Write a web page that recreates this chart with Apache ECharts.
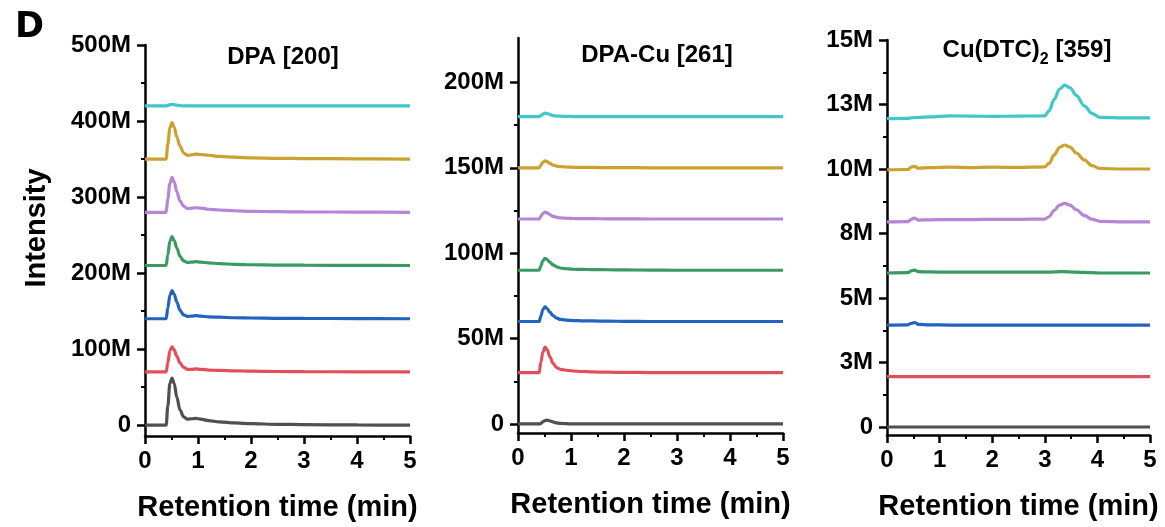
<!DOCTYPE html>
<html>
<head>
<meta charset="utf-8">
<script src="https://cdn.jsdelivr.net/npm/echarts@6/dist/echarts.min.js"></script>
<style>
  html, body { margin: 0; padding: 0; background: #fff; }
  #chart { width: 1165px; height: 527px; }
</style>
</head>
<body>
<div id="chart"></div>
<script>
// retention time (min) and intensity values (millions)
const time1 = [0, 0.40, 0.43, 0.47, 0.51, 0.55, 0.60, 0.66, 0.73, 0.80, 0.88, 0.96, 1.05, 1.2, 1.4, 1.7, 2.0, 2.5, 3.0, 4.0, 5.0]
const dpaBlack = [0, 0, 25, 55, 62, 55, 37, 20, 11, 8, 8.5, 9, 8, 6, 4.5, 3, 2, 1.2, 0.8, 0.3, 0]
const dpaRed = [70, 70, 82, 98, 103, 99, 91, 82, 76, 73.5, 73.5, 74, 73.5, 72.5, 72, 71.5, 71, 70.6, 70.4, 70.2, 70]
const dpaBlue = [140, 140, 154, 171, 177, 172, 162, 151, 145, 143, 143.5, 144, 143.5, 142.5, 142, 141.3, 141, 140.6, 140.4, 140.2, 140]
const dpaGreen = [210, 210, 224, 242, 248, 243, 233, 222, 216, 214, 214.5, 215, 214.5, 213.5, 212.5, 211.5, 211, 210.6, 210.4, 210.2, 210]
const dpaPurple = [280, 280, 298, 318, 326, 320, 307, 295, 288, 285, 285.5, 286, 285.5, 284, 283, 282, 281.3, 280.8, 280.5, 280.2, 280]
const dpaYellow = [350, 350, 370, 391, 398, 392, 379, 367, 358, 355, 355.5, 356.5, 356, 355, 353.5, 352.5, 351.5, 351, 350.6, 350.3, 350]
const dpaCyan = [420, 420, 420.5, 421.5, 422, 421.5, 420.8, 420.3, 420, 420, 420, 420, 420, 420, 420, 420, 420, 420, 420, 420, 420]

const time2 = time1
const cuBlack = [0, 0, 0.3, 1.2, 2, 2.2, 1.8, 1.2, 0.6, 0.3, 0.2, 0.1, 0.1, 0, 0, 0, 0, 0, 0, 0, 0]
const cuRed = [30, 30, 36, 42, 45, 43.5, 39.5, 35.5, 33, 32, 31.6, 31.3, 31, 30.7, 30.5, 30.3, 30.2, 30.1, 30, 30, 30]
const cuBlue = [60, 60, 63, 67, 68.5, 67.5, 65.5, 63.5, 62, 61.2, 60.9, 60.7, 60.5, 60.4, 60.3, 60.2, 60.1, 60, 60, 60, 60]
const cuGreen = [90, 90, 92.5, 95.5, 97, 96.3, 94.8, 93.2, 92, 91.3, 91, 90.8, 90.6, 90.5, 90.4, 90.3, 90.2, 90.1, 90, 90, 90]
const cuPurple = [120, 120, 121.5, 123.2, 124, 123.6, 122.6, 121.6, 121, 120.7, 120.5, 120.4, 120.3, 120.2, 120.2, 120.1, 120.1, 120, 120, 120, 120]
const cuYellow = [150, 150, 151.5, 153.2, 154, 153.6, 152.6, 151.6, 151, 150.7, 150.5, 150.4, 150.3, 150.2, 150.2, 150.1, 150.1, 150, 150, 150, 150]
const cuCyan = [180, 180, 180.5, 181.4, 182, 181.8, 181.2, 180.6, 180.3, 180.2, 180.1, 180.1, 180, 180, 180, 180, 180, 180, 180, 180, 180]

const time3 = [0, 0.40, 0.46, 0.52, 0.60, 0.80, 1.2, 1.6, 2.0, 2.5, 3.0, 3.08, 3.18, 3.28, 3.38, 3.48, 3.6, 3.75, 3.9, 4.05, 4.5, 5.0]
const dtcBlack = [0, 0, 0, 0, 0, 0, 0, 0, 0, 0, 0, 0, 0, 0, 0, 0, 0, 0, 0, 0, 0, 0]
const dtcRed = [1.95, 1.95, 1.95, 1.95, 1.95, 1.95, 1.95, 1.95, 1.95, 1.95, 1.95, 1.95, 1.95, 1.95, 1.95, 1.95, 1.95, 1.95, 1.95, 1.95, 1.95, 1.95]
const dtcBlue = [3.95, 3.96, 4.02, 4.05, 3.98, 3.96, 3.95, 3.95, 3.95, 3.95, 3.95, 3.95, 3.95, 3.95, 3.95, 3.95, 3.95, 3.95, 3.95, 3.95, 3.95, 3.95]
const dtcGreen = [5.97, 5.98, 6.05, 6.08, 6.02, 6.01, 6.0, 6.0, 6.0, 6.0, 6.0, 6.0, 6.01, 6.02, 6.02, 6.01, 6.0, 5.99, 5.98, 5.97, 5.97, 5.97]
const dtcPurple = [7.95, 7.96, 8.05, 8.1, 8.02, 8.03, 8.04, 8.04, 8.05, 8.05, 8.06, 8.15, 8.4, 8.6, 8.67, 8.6, 8.42, 8.2, 8.05, 7.97, 7.95, 7.95]
const dtcYellow = [9.97, 9.98, 10.07, 10.1, 10.03, 10.05, 10.07, 10.05, 10.07, 10.06, 10.08, 10.22, 10.55, 10.84, 10.93, 10.85, 10.62, 10.35, 10.13, 10.02, 10.0, 10.0]
const dtcCyan = [11.95, 11.96, 11.98, 11.99, 12.0, 12.02, 12.06, 12.05, 12.04, 12.05, 12.06, 12.25, 12.7, 13.1, 13.25, 13.15, 12.85, 12.45, 12.15, 12.0, 11.98, 11.98]

// y tick values (millions)
const ticks1 = [0, 100, 200, 300, 400, 500]
const minor1 = [50, 150, 250, 350, 450]
const ticks2 = [0, 50, 100, 150, 200]
const minor2 = [25, 75, 125, 175]
const ticks3 = [0, 2.5, 5, 7.5, 10, 12.5, 15]
const minor3 = [1.25, 3.75, 6.25, 8.75, 11.25, 13.75]

const colors = ['#505050', '#e0505a', '#2462c0', '#3b9a62', '#b586d6', '#c9a22f', '#41c6c9']

const panels = [
  { time: time1, min: -14.2, max: 500, ticks: ticks1, minor: minor1,
    series: [dpaBlack, dpaRed, dpaBlue, dpaGreen, dpaPurple, dpaYellow, dpaCyan],
    grid: { left: 145, top: 45, width: 265, height: 398 } },
  { time: time2, min: -5.3, max: 226, ticks: ticks2, minor: minor2,
    series: [cuBlack, cuRed, cuBlue, cuGreen, cuPurple, cuYellow, cuCyan],
    grid: { left: 518, top: 38, width: 265, height: 395 } },
  { time: time3, min: -0.31, max: 15, ticks: ticks3, minor: minor3,
    series: [dtcBlack, dtcRed, dtcBlue, dtcGreen, dtcPurple, dtcYellow, dtcCyan],
    grid: { left: 887, top: 40, width: 263, height: 395 } }
]

const black = '#000'
const tickFont = { fontFamily: 'Liberation Sans', fontWeight: 'bold', fontSize: 24, color: black }
const nameFont = { fontFamily: 'Liberation Sans', fontWeight: 'bold', fontSize: 29, color: black }

const fmtM = v => (v === 0 ? '0' : Math.round(v) + 'M')

const grid = []
const xAxis = []
const yAxis = []
const series = []

panels.forEach((p, i) => {
  grid.push(p.grid)
  xAxis.push({
    gridIndex: i,
    type: 'value',
    min: 0,
    max: 5,
    interval: 1,
    axisLine: { onZero: false, lineStyle: { color: black, width: 2.5 } },
    axisTick: { length: 8, lineStyle: { color: black, width: 2.5 } },
    minorTick: { show: true, splitNumber: 2, length: 4, lineStyle: { color: black, width: 2 } },
    axisLabel: Object.assign({ margin: 13 }, tickFont),
    splitLine: { show: false },
    name: 'Retention time (min)',
    nameLocation: 'middle',
    nameGap: 57,
    nameTextStyle: nameFont
  })
  // main y axis with labelled ticks
  yAxis.push({
    gridIndex: i,
    type: 'value',
    position: 'left',
    min: p.min,
    max: p.max,
    axisLine: { show: true, onZero: false, lineStyle: { color: black, width: 2.5 } },
    axisTick: { customValues: p.ticks, length: 8, lineStyle: { color: black, width: 2.5 } },
    axisLabel: Object.assign({ customValues: p.ticks, margin: 14, formatter: fmtM }, tickFont),
    splitLine: { show: false }
  })
  // second y axis only for the short minor ticks
  yAxis.push({
    gridIndex: i,
    type: 'value',
    position: 'left',
    min: p.min,
    max: p.max,
    axisLine: { show: false, onZero: false },
    axisTick: { customValues: p.minor, length: 4, lineStyle: { color: black, width: 2 } },
    axisLabel: { show: false },
    splitLine: { show: false }
  })
  p.series.forEach((vals, k) => {
    series.push({
      type: 'line',
      xAxisIndex: i,
      yAxisIndex: i * 2,
      data: p.time.map((t, j) => [t, vals[j]]),
      showSymbol: false,
      smooth: 0.35,
      smoothMonotone: 'x',
      lineStyle: { color: colors[k], width: 3.2 },
      itemStyle: { color: colors[k] },
      silent: true
    })
  })
})

const titleStyle = { fill: black, fontFamily: 'Liberation Sans', fontWeight: 'bold', fontSize: 24, align: 'center', verticalAlign: 'middle' }

const graphic = [
  { type: 'text', x: 15, y: 10, style: { text: 'D', fill: black, fontFamily: 'DejaVu Sans', fontWeight: 'bold', fontSize: 35 } },
  { type: 'text', x: 37, y: 228, rotation: Math.PI / 2,
    style: { text: 'Intensity', fill: black, fontFamily: 'Liberation Sans', fontWeight: 'bold', fontSize: 29, align: 'center', verticalAlign: 'middle' } },
  { type: 'text', x: 283, y: 57, style: Object.assign({ text: 'DPA [200]' }, titleStyle) },
  { type: 'text', x: 657, y: 55, style: Object.assign({ text: 'DPA-Cu [261]' }, titleStyle) },
  { type: 'text', x: 1027, y: 50,
    style: Object.assign({}, titleStyle, {
      text: 'Cu(DTC){sub|2} [359]',
      lineHeight: 36,
      rich: { sub: { fontFamily: 'Liberation Sans', fontWeight: 'bold', fontSize: 16, lineHeight: 16, verticalAlign: 'bottom', fill: black } }
    }) }
]

const chart = echarts.init(document.getElementById('chart'))
chart.setOption({
  backgroundColor: '#fff',
  animation: false,
  grid,
  xAxis,
  yAxis,
  series,
  graphic
})
</script>
</body>
</html>
